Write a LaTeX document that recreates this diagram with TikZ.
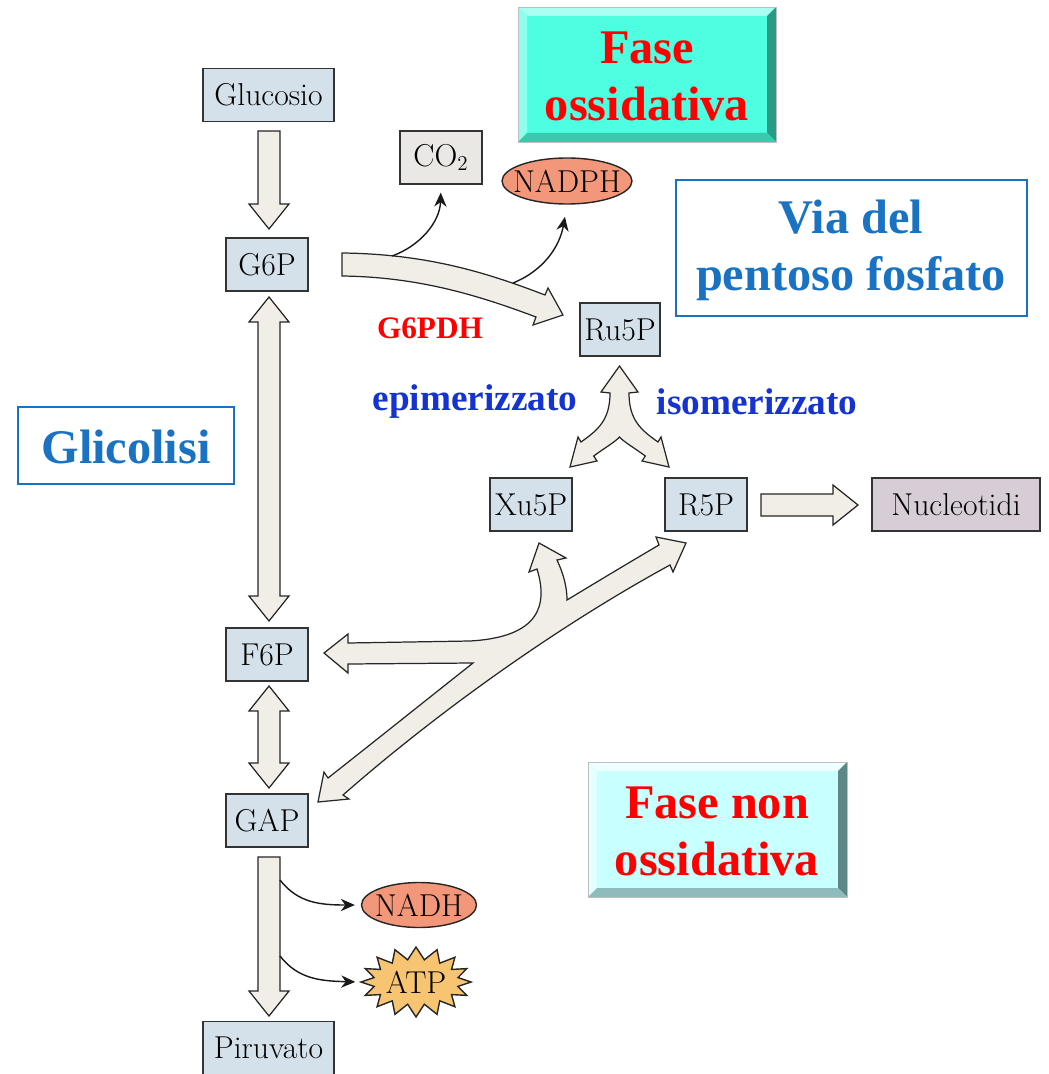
\documentclass[tikz,border=0pt]{standalone}
\usepackage{fontspec}
\newfontfamily\tnr{Liberation Serif}
\usetikzlibrary{shapes.geometric,shapes.symbols,arrows.meta,calc}
\definecolor{boxfill}{HTML}{D5E1EA}
\definecolor{cofill}{HTML}{E9E8E5}
\definecolor{nucfill}{HTML}{D6CDD6}
\definecolor{arrfill}{HTML}{F0EEE6}
\definecolor{salmon}{HTML}{F2977A}
\definecolor{atpfill}{HTML}{F7C472}
\definecolor{vblue}{HTML}{1A72C2}
\definecolor{eblue}{HTML}{1433CF}
\definecolor{turq}{HTML}{4DFFE0}
\definecolor{turqL}{HTML}{A8FFF2}
\definecolor{turqD}{HTML}{2A9C86}
\definecolor{cyanL}{HTML}{C8FFFF}
\definecolor{cyanLL}{HTML}{EEFFFF}
\definecolor{cyanD}{HTML}{5E8686}
\newcommand\lmtext{\fontsize{18}{21}\selectfont}
\newcommand\bigbold{\tnr\bfseries\fontsize{27.5}{32.4}\selectfont}
\newcommand\midbold{\tnr\bfseries\fontsize{21.2}{25}\selectfont}
\newcommand\smbold{\tnr\bfseries\fontsize{17.8}{21}\selectfont}
\newcommand\fatdown[3]{%
 \draw[blk] (#1-11,#2) -- (#1+11,#2) -- (#1+11,#3-25) -- (#1+20,#3-25) -- (#1,#3) -- (#1-20,#3-25) -- (#1-11,#3-25) -- cycle;}
\newcommand\fatboth[3]{%
 \draw[blk] (#1,#2) -- (#1+20,#2+25) -- (#1+11,#2+25) -- (#1+11,#3-25) -- (#1+20,#3-25) -- (#1,#3) -- (#1-20,#3-25) -- (#1-11,#3-25) -- (#1-11,#2+25) -- (#1-20,#2+25) -- cycle;}
\newcommand\fatright[3]{%
 \draw[blk] (#2,#1-11) -- (#3-25,#1-11) -- (#3-25,#1-20) -- (#3,#1) -- (#3-25,#1+20) -- (#3-25,#1+11) -- (#2,#1+11) -- cycle;}
\newcommand\bevelbox[7]{%
 \fill[#5] (#1,#2) rectangle (#3,#4);
 \fill[#6] (#1,#2) -- (#3,#2) -- (#3-9,#2+9) -- (#1+9,#2+9) -- cycle;
 \fill[#6!70!#5] (#1,#2) -- (#1+9,#2+9) -- (#1+9,#4-9) -- (#1,#4) -- cycle;
 \fill[#7] (#3,#2) -- (#3,#4) -- (#3-9,#4-9) -- (#3-9,#2+9) -- cycle;
 \fill[#7!55!#5] (#1,#4) -- (#3,#4) -- (#3-9,#4-9) -- (#1+9,#4-9) -- cycle;
 \draw[black!25, line width=0.4pt] (#1,#2) rectangle (#3,#4);}
\begin{document}
\begin{tikzpicture}[x=0.02cm,y=-0.02cm,
  box/.style={draw=black!80, line width=0.8pt, fill=boxfill, minimum height=30.16pt, inner sep=0pt, font=\lmtext},
  blk/.style={draw=black!85, line width=0.7pt, fill=arrfill, line join=miter},
  thinarr/.style={draw=black!90, line width=0.8pt, -{Stealth[length=8pt,width=7pt]}},
  oval/.style={ellipse, draw=black!85, line width=0.8pt, fill=salmon, inner xsep=-9pt, inner ysep=-2pt, font=\lmtext}]
\useasboundingbox (0,0) rectangle (1048,1074);

% bevel boxes
\bevelbox{518}{7}{776}{142}{turq}{turqL}{turqD}
\node[font=\bigbold, text=red, align=center] (fox) at (647,76) {Fase\\ossidativa};
\bevelbox{588}{762}{847}{897}{cyanL}{cyanLL}{cyanD}
\node[font=\bigbold, text=red, align=center] (fnox) at (717,831) {Fase non\\ossidativa};

% blue label boxes
\draw[vblue, line width=1.1pt, fill=white] (676,180) rectangle (1027,316);
\node[font=\bigbold, text=vblue, align=center] (via) at (851,250) {Via del\\pentoso fosfato};
\draw[vblue, line width=1.1pt, fill=white] (18,407) rectangle (234,484);
\node[font=\bigbold, text=vblue] (glic) at (126,447) {Glicolisi};

% metabolite boxes
\node[box, minimum width=74.55pt] (gluc) at (268.5,95) {Glucosio};
\node[box, minimum width=46.66pt] (g6p) at (267,264.5) {G6P};
\node[box, minimum width=46.66pt] (f6p) at (267,654.5) {F6P};
\node[box, minimum width=46.66pt] (gap) at (267,820.5) {GAP};
\node[box, minimum width=74.55pt] (piru) at (268.5,1048) {Piruvato};
\node[box, minimum width=46.66pt, fill=cofill] (co2) at (441,157.5) {CO$_2$};
\node[box, minimum width=45.52pt] (ru5p) at (620,329.5) {Ru5P};
\node[box, minimum width=46.66pt] (xu5p) at (531,504.5) {Xu5P};
\node[box, minimum width=46.66pt] (r5p) at (706,504.5) {R5P};
\node[box, minimum width=95.6pt, fill=nucfill] (nuc) at (956,504.5) {Nucleotidi};
\node[oval, minimum width=73.98pt, minimum height=26.18pt] (nadph) at (567,181) {NADPH};
\node[oval, minimum width=65.44pt, minimum height=25.6pt] (nadh) at (419,905) {NADH};
\node[starburst, starburst points=16, starburst point height=7pt, random starburst=0, draw=black!85, line width=0.8pt, fill=atpfill, minimum width=61.5pt, minimum height=39.8pt, inner sep=0pt, font=\lmtext] (atp) at (416,982) {ATP};

% labels
\node[font=\smbold, text=red] (g6pdh) at (430,328) {G6PDH};
\node[font=\midbold, text=eblue] (epi) at (475,402) {epimerizzato};
\node[font=\midbold, text=eblue] (iso) at (757,402) {isomerizzato};

% block arrows (glycolysis)
\fatdown{269}{131}{229}
\fatboth{269}{297}{621}
\fatboth{269}{686}{788}
\fatdown{269}{857}{1016}
\fatright{505}{761}{858}

% G6P -> Ru5P
\draw[blk] (342,253) .. controls (430,254) and (490,274) .. (545,295) -- (548,288) -- (563,315) -- (533,325) -- (536,317) .. controls (480,296) and (420,277) .. (342,276) -- cycle;

% fork Ru5P <-> Xu5P / R5P
\draw[blk] (619.5,366) -- (638,392) -- (629,393)
  .. controls (629,420) and (641,430) .. (658,442) -- (661,437) -- (669,467) -- (642,461) -- (645.3,456)
  .. controls (633,447) and (624,442) .. (619.5,437)
  .. controls (615,442) and (606,447) .. (593.7,456) -- (597,461) -- (570,467) -- (578,437) -- (581,442)
  .. controls (598,430) and (610,420) .. (610,393) -- (601,392) -- cycle;

% Y arrow GAP / F6P / Xu5P / R5P
\draw[blk] (686,543) -- (673,572) -- (670,565)
  .. controls (560,625) and (440,710) .. (343,795) -- (349,799) -- (318,802) -- (324,772) -- (328,778)
  .. controls (380,737) and (430,697) .. (473,663)
  -- (348,664) -- (348,673) -- (324,653) -- (348,634) -- (348,643)
  -- (470,641) .. controls (540,637) and (548,605) .. (537,569)
  -- (529,572) -- (539,543) -- (566,558) -- (557,560)
  .. controls (564,575) and (567,588) .. (567,600)
  .. controls (600,580) and (630,562) .. (659,545) -- (656,537) -- cycle;

% thin product arrows
\coordinate (co2s) at (392,256);
\coordinate (npds) at (513,283);
\coordinate (nads) at (280,880);
\coordinate (atps) at (280,956);
\draw[thinarr, shorten >=4.5pt] (co2s) .. controls (420,246) and (440,222) .. (co2.south);
\draw[thinarr, shorten >=7pt] (npds) .. controls (545,270) and (560,245) .. (nadph.south);
\draw[thinarr, shorten >=3.4pt] (nads) .. controls (298,903) and (320,905) .. (nadh.west);
\draw[thinarr, shorten >=2pt] (atps) .. controls (298,979) and (320,981) .. (atp.west);
\end{tikzpicture}
\end{document}
